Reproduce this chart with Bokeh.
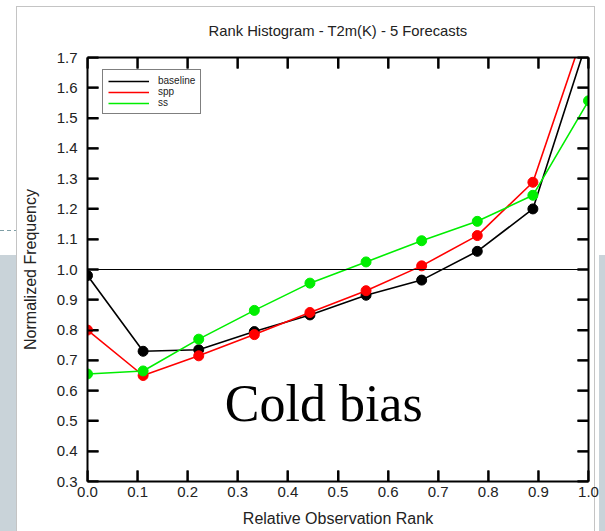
from bokeh.plotting import figure
from bokeh.models import (Range1d, LinearAxis, FixedTicker, Span, Legend, LegendItem,
                          Label, NumeralTickFormatter, InlineStyleSheet)
from bokeh.embed import file_html
from bokeh.resources import INLINE

# ---- data ----
ranks = [0.0, 0.111, 0.222, 0.333, 0.444, 0.556, 0.667, 0.778, 0.889, 1.0]
baseline = [0.98, 0.73, 0.735, 0.795, 0.85, 0.915, 0.965, 1.06, 1.20, 1.77]
spp = [0.80, 0.65, 0.715, 0.785, 0.858, 0.93, 1.012, 1.112, 1.288, 1.83]
ss = [0.655, 0.665, 0.77, 0.865, 0.955, 1.025, 1.095, 1.159, 1.245, 1.557]

x_ticks = [0.0, 0.1, 0.2, 0.3, 0.4, 0.5, 0.6, 0.7, 0.8, 0.9, 1.0]
y_ticks = [0.3, 0.4, 0.5, 0.6, 0.7, 0.8, 0.9, 1.0, 1.1, 1.2, 1.3, 1.4, 1.5, 1.6, 1.7]

title_text = "Rank Histogram - T2m(K) - 5 Forecasts"
x_label = "Relative Observation Rank"
y_label = "Normalized Frequency"
note_text = "Cold bias"

series_names = ["baseline", "spp", "ss"]
series_colors = ["black", "#ff0000", "#00ee00"]

FONT = "Liberation Sans"
X0, X1 = 0.0, 1.0
Y0, Y1 = 0.3, 1.7

W, H = 605, 531
B_LEFT, B_RIGHT, B_TOP, B_BOTTOM = 87, 17, 57, 50
TICK_PX = 11

p = figure(width=W, height=H, output_backend="svg", toolbar_location=None,
           x_range=Range1d(X0, X1), y_range=Range1d(Y0, Y1),
           min_border_left=B_LEFT, min_border_right=B_RIGHT,
           min_border_top=B_TOP, min_border_bottom=B_BOTTOM,
           background_fill_color="white", border_fill_color=None)
p.outline_line_color = None
p.xgrid.visible = False
p.ygrid.visible = False

# slide background around the pasted picture (pure CSS decoration)
p.stylesheets = [InlineStyleSheet(css="""
:host {
  background-color: white;
  background-image:
    linear-gradient(#c9d3d9, #c9d3d9),
    linear-gradient(#c9d3d9, #c9d3d9),
    linear-gradient(#c4c4c4, #c4c4c4),
    linear-gradient(#c4c4c4, #c4c4c4),
    linear-gradient(#c4c4c4, #c4c4c4),
    repeating-linear-gradient(90deg, #7f9fa6 0 4px, transparent 4px 7px);
  background-repeat: no-repeat;
  background-position: 0 255px, 599px 255px, 16px 6px, 16px 6px, 594px 6px, 0 230px;
  background-size: 16px 276px, 6px 276px, 1px 525px, 579px 1px, 1px 525px, 16px 1px;
}
""")]

p.title.text = title_text
p.title.align = "center"
p.title.text_font = FONT
p.title.text_font_style = "normal"
p.title.text_font_size = "14.8px"
p.title.text_color = "#222222"
p.title.standoff = 38

def style_axis(ax, ticks, show_labels):
    ax.ticker = FixedTicker(ticks=ticks)
    ax.formatter = NumeralTickFormatter(format="0.0")
    ax.axis_line_width = 2
    ax.axis_line_color = "black"
    ax.major_tick_line_width = 2
    ax.major_tick_line_color = "black"
    ax.major_tick_in = TICK_PX
    ax.major_tick_out = 0
    ax.minor_tick_line_color = None
    ax.major_label_text_font = FONT
    ax.major_label_text_font_size = "15px"
    ax.major_label_text_color = "#222222" if show_labels else None
    ax.axis_label_text_font = FONT
    ax.axis_label_text_font_style = "normal"
    ax.axis_label_text_font_size = "16px"
    ax.axis_label_text_color = "#222222"

xax = p.xaxis[0]
yax = p.yaxis[0]
style_axis(xax, x_ticks, True)
style_axis(yax, y_ticks, True)
xax.axis_label = x_label
yax.axis_label = y_label
xax.major_label_standoff = 5
yax.major_label_standoff = 10
xax.axis_label_standoff = 10
yax.axis_label_standoff = 15

top_ax = LinearAxis()
style_axis(top_ax, x_ticks, False)
top_ax.major_label_standoff = 0
top_ax.major_label_text_font_size = "1px"
p.add_layout(top_ax, "above")
right_ax = LinearAxis()
style_axis(right_ax, y_ticks, False)
right_ax.major_label_standoff = 0
right_ax.major_label_text_font_size = "1px"
p.add_layout(right_ax, "right")

# inward tick marks on all four sides, drawn from the tick lists
frame_w = W - B_LEFT - B_RIGHT
frame_h = H - B_TOP - B_BOTTOM
ly = TICK_PX * (Y1 - Y0) / frame_h
lx = TICK_PX * (X1 - X0) / frame_w
n_x = len(x_ticks)
n_y = len(y_ticks)
p.segment(x0=x_ticks, x1=x_ticks, y0=[Y0] * n_x, y1=[Y0 + ly] * n_x, line_color="black", line_width=2)
p.segment(x0=x_ticks, x1=x_ticks, y0=[Y1] * n_x, y1=[Y1 - ly] * n_x, line_color="black", line_width=2)
p.segment(x0=[X0] * n_y, x1=[X0 + lx] * n_y, y0=y_ticks, y1=y_ticks, line_color="black", line_width=2)
p.segment(x0=[X1] * n_y, x1=[X1 - lx] * n_y, y0=y_ticks, y1=y_ticks, line_color="black", line_width=2)

p.add_layout(Span(location=1.0, dimension="width", line_color="black", line_width=1))

line_renderers = []
for name, vals, col in zip(series_names, [baseline, spp, ss], series_colors):
    lr = p.line(ranks, vals, line_color=col, line_width=1.6)
    p.scatter(ranks, vals, size=10, fill_color=col, line_color=col)
    line_renderers.append(lr)

legend = Legend(items=[LegendItem(label=n, renderers=[r]) for n, r in zip(series_names, line_renderers)],
                location=(15, 367))
legend.label_text_font = FONT
legend.label_text_font_size = "10px"
legend.label_text_color = "#222222"
legend.glyph_width = 41
legend.glyph_height = 8
legend.label_height = 8
legend.label_standoff = 9
legend.spacing = 0
legend.padding = 5
legend.margin = 0
legend.border_line_color = "black"
legend.border_line_width = 1.5
legend.background_fill_color = "white"
legend.background_fill_alpha = 1.0
p.add_layout(legend, "center")

p.add_layout(Label(x=0.274, y=0.557, text=note_text, text_font="Liberation Serif",
                   text_font_size="52px", text_color="black", text_baseline="alphabetic",
                   text_align="left"))

open("out.html", "w").write(file_html(p, INLINE))
